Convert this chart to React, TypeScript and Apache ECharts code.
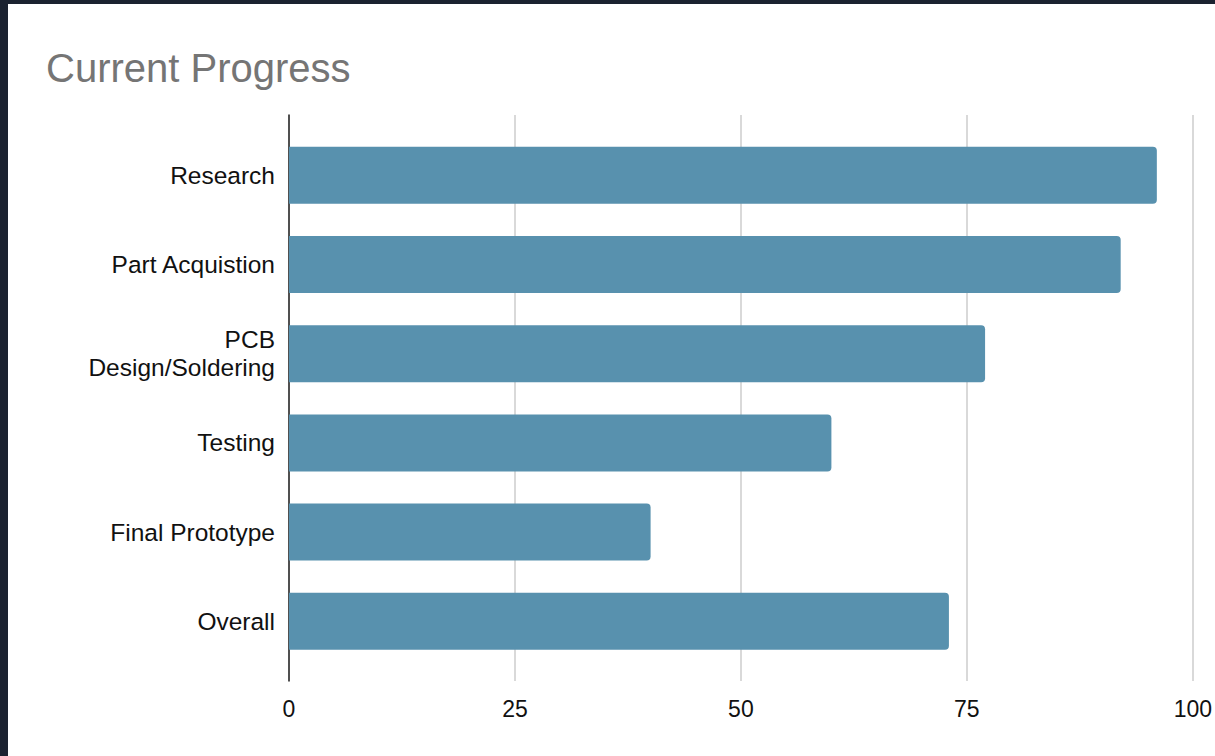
import React, { useEffect, useRef } from "react";
import * as echarts from "echarts";

const title = "Current Progress";
const categories = [
  "Research",
  "Part Acquistion",
  "PCB\nDesign/Soldering",
  "Testing",
  "Final Prototype",
  "Overall",
];
const progress = [96, 92, 77, 60, 40, 73];
const xTicks = [0, 25, 50, 75, 100];

const FONT = "Arial, 'Liberation Sans', sans-serif";

export default function App() {
  const ref = useRef<HTMLDivElement>(null);
  useEffect(() => {
    if (!ref.current) return;
    const chart = echarts.init(ref.current, null, { renderer: "svg" });
    chart.setOption({
      animation: false,
      backgroundColor: "transparent",
      title: {
        text: title,
        left: 41,
        top: 43,
        textStyle: { fontFamily: FONT, fontSize: 40, fontWeight: "normal", color: "#757575" },
      },
      grid: [
        { left: 289, right: 22, top: 115, bottom: 75 },
        { left: 289, right: 22, top: 130.7, bottom: 90.1 },
      ],
      xAxis: [
        {
          type: "value",
          gridIndex: 0,
          min: xTicks[0],
          max: xTicks[xTicks.length - 1],
          interval: 25,
          axisLine: { show: false },
          axisTick: { show: false },
          splitLine: { show: true, lineStyle: { color: "#cccccc", width: 1.5 } },
          axisLabel: {
            margin: 16,
            fontFamily: FONT,
            fontSize: 23,
            color: "#111",
            showMaxLabel: true,
          },
        },
        {
          type: "value",
          gridIndex: 1,
          min: xTicks[0],
          max: xTicks[xTicks.length - 1],
          show: false,
          splitLine: { show: false },
        },
      ],
      yAxis: [
        {
          type: "category",
          gridIndex: 0,
          data: categories,
          inverse: true,
          axisLine: { show: true, lineStyle: { color: "#222", width: 1.5 } },
          axisTick: { show: false },
          axisLabel: { show: false },
          splitLine: { show: false },
        },
        {
          type: "category",
          gridIndex: 1,
          data: categories,
          inverse: true,
          axisLine: { show: false },
          axisTick: { show: false },
          splitLine: { show: false },
          axisLabel: {
            margin: 14,
            fontFamily: FONT,
            fontSize: 24.5,
            color: "#111",
            lineHeight: 28,
            align: "right",
          },
        },
      ],
      series: [
        {
          type: "bar",
          xAxisIndex: 1,
          yAxisIndex: 1,
          data: progress,
          barWidth: 57,
          itemStyle: { color: "#5891ae", borderRadius: [0, 4, 4, 0] },
        },
      ],
    });
    return () => chart.dispose();
  }, []);

  return (
    <div
      style={{
        position: "fixed",
        left: 0,
        top: 0,
        width: 1215,
        height: 756,
        background: "#1b2230",
        overflow: "hidden",
      }}
    >
      <div
        style={{
          position: "absolute",
          left: 8,
          top: 4,
          right: 0,
          bottom: 0,
          background: "#ffffff",
        }}
      />
      <div ref={ref} style={{ position: "absolute", left: 0, top: 0, width: 1215, height: 756 }} />
    </div>
  );
}
